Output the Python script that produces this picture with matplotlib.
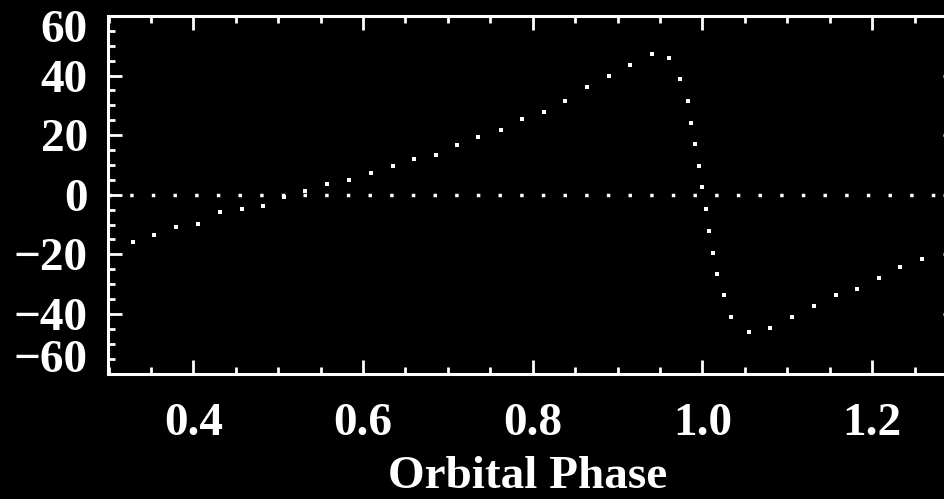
import matplotlib
matplotlib.use("Agg")
import matplotlib.pyplot as plt
from matplotlib.ticker import MultipleLocator, FixedLocator
from matplotlib.transforms import ScaledTranslation

# radial velocity curve
phase = [0.329, 0.354, 0.380, 0.406, 0.431, 0.457, 0.482, 0.507, 0.532, 0.558,
         0.584, 0.609, 0.635, 0.660, 0.686, 0.711, 0.736, 0.762, 0.787, 0.813,
         0.838, 0.864, 0.890, 0.915, 0.940, 0.961, 0.974, 0.983, 0.987, 0.991,
         0.996, 1.000, 1.004, 1.008, 1.013, 1.017, 1.025, 1.034, 1.055, 1.080,
         1.106, 1.132, 1.157, 1.182, 1.208, 1.233, 1.259]
velocity = [-15.7, -13.4, -10.9, -9.7, -5.9, -4.8, -3.7, -0.6, 1.1, 3.6,
            4.8, 7.3, 9.7, 12.1, 13.3, 16.8, 19.4, 21.7, 25.4, 27.8,
            31.5, 36.3, 39.9, 43.6, 47.2, 45.9, 38.7, 31.5, 24.2, 16.9,
            9.6, 2.5, -4.8, -12.0, -19.4, -26.7, -33.8, -41.1, -46.1, -44.8,
            -41.1, -37.5, -33.8, -31.5, -27.8, -24.1, -21.7]

xticks = [0.4, 0.6, 0.8, 1.0, 1.2]
yticks = [-60, -40, -20, 0, 20, 40, 60]

plt.rcParams['font.family'] = ['Liberation Serif', 'DejaVu Serif']
plt.rcParams['font.weight'] = 'bold'
plt.rcParams['lines.scale_dashes'] = False

fig = plt.figure(figsize=(9.45, 4.99), dpi=100, facecolor='black')
ax = fig.add_axes([108.5 / 945, (499 - 373.5) / 499, 848.5 / 945, 357.5 / 499])
ax.set_facecolor('black')

# dotted zero line
ax.axhline(0, color='white', lw=2.5, linestyle=(0, (2.5, 13.1)))
ax.plot(phase, velocity, 's', color='white', ms=2.8, mew=0)

ax.set_xlim(0.3, 1.3)
ax.set_ylim(-60, 60)
ax.xaxis.set_major_locator(FixedLocator(xticks))
ax.xaxis.set_minor_locator(MultipleLocator(0.05))
ax.yaxis.set_major_locator(FixedLocator(yticks))
ax.yaxis.set_minor_locator(MultipleLocator(5))
ax.set_xticklabels(['%.1f' % t for t in xticks])

for s in ax.spines.values():
    s.set_color('white')
    s.set_linewidth(2.2)

ax.tick_params(which='both', direction='in', top=True, right=True,
               colors='white', labelsize=34, width=2)
ax.tick_params(which='major', length=10)
ax.tick_params(which='minor', length=5)
ax.tick_params(axis='x', pad=21)
ax.tick_params(axis='y', pad=15)

# end labels sit inside the axis range, as in the original
ticks = ax.yaxis.get_major_ticks()
lab = ticks[0].label1
lab.set_va('baseline')
lab.set_transform(lab.get_transform() + ScaledTranslation(0, 0.01, fig.dpi_scale_trans))
lab = ticks[-1].label1
lab.set_va('top')
lab.set_transform(lab.get_transform() + ScaledTranslation(0, 0.06, fig.dpi_scale_trans))

ax.set_xlabel('Orbital Phase', color='white', fontsize=34, fontweight='bold')
ax.xaxis.label.set_va('baseline')
ax.xaxis.set_label_coords(0.494, -0.319)

fig.savefig('out.png', dpi=100, facecolor='black')
